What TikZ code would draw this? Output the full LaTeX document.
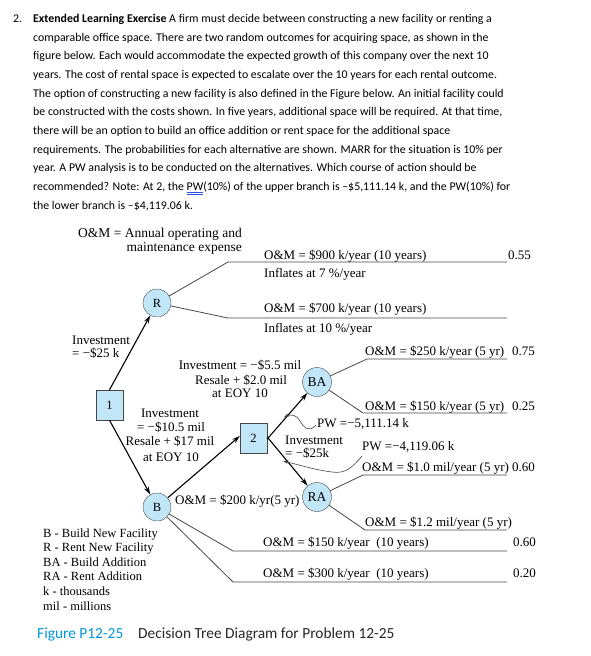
\documentclass[tikz,border=0pt]{standalone}
\usepackage{fontspec}
\setmainfont{Liberation Serif}
\newfontfamily\parafont{Carlito}
\usetikzlibrary{arrows.meta}
\definecolor{nodefill}{RGB}{192,230,247}
\definecolor{capblue}{RGB}{0,150,214}
\definecolor{linegray}{RGB}{70,70,70}
\definecolor{wordblue}{RGB}{40,80,220}
\newlength\pwlen
\begin{document}
\begin{tikzpicture}[x=1pt,y=-1pt,
  ptxt/.style={font=\parafont\fontsize{11.85}{14}\selectfont, anchor=base west, inner sep=0},
  tt/.style={font=\fontsize{13}{15}\selectfont, inner sep=0, anchor=base west},
  ttc/.style={font=\fontsize{13}{15}\selectfont, inner sep=0, anchor=base},
  lg/.style={font=\fontsize{12.5}{14}\selectfont, inner sep=0, anchor=base west},
  chance/.style={circle, draw=linegray, fill=nodefill, minimum size=28, inner sep=0, font=\fontsize{12.5}{14}\selectfont},
  decision/.style={rectangle, draw=linegray, fill=nodefill, minimum width=27, minimum height=30, inner sep=0, font=\fontsize{12.5}{14}\selectfont},
  branch/.style={draw=linegray, line width=0.8},
  arr/.style={-{Stealth[length=8,width=5]}, line width=1.1, draw=black},
  lead/.style={-{Stealth[length=5,width=3.5]}, line width=0.6, draw=linegray}
]
\useasboundingbox (0,0) rectangle (591,656);

% ---------- paragraph ----------
\node[ptxt] (p0) at (13,22.5) {2.};
\node[ptxt] (p1) at (33,22.5) {\textbf{Extended Learning Exercise} A firm must decide between constructing a new facility or renting a};
\node[ptxt] (p2) at (33,41.2) {comparable office space. There are two random outcomes for acquiring space, as shown in the};
\node[ptxt] (p3) at (33,59.8) {figure below. Each would accommodate the expected growth of this company over the next 10};
\node[ptxt] (p4) at (33,78.5) {years. The cost of rental space is expected to escalate over the 10 years for each rental outcome.};
\node[ptxt] (p5) at (33,97.1) {The option of constructing a new facility is also defined in the Figure below. An initial facility could};
\node[ptxt] (p6) at (33,115.8) {be constructed with the costs shown. In five years, additional space will be required. At that time,};
\node[ptxt] (p7) at (33,134.4) {there will be an option to build an office addition or rent space for the additional space};
\node[ptxt] (p8) at (33,153) {requirements. The probabilities for each alternative are shown. MARR for the situation is 10\% per};
\node[ptxt] (p9) at (33,171.7) {year. A PW analysis is to be conducted on the alternatives. Which course of action should be};
\node[ptxt] (p10) at (33,190.3) {recommended? Note: At 2, the \settowidth{\pwlen}{PW}\rlap{\color{wordblue}\rule[-2.2pt]{\pwlen}{0.5pt}}\rlap{\color{wordblue}\rule[-3.7pt]{\pwlen}{0.5pt}}PW(10\%) of the upper branch is –\$5,111.14 k, and the PW(10\%) for};
\node[ptxt] (p11) at (33,209) {the lower branch is –\$4,119.06 k.};

% ---------- nodes ----------
\node[decision] (d1) at (109.5,405) {1};
\node[decision] (d2) at (253.5,438) {2};
\node[chance] (R) at (157,303) {R};
\node[chance] (B) at (157,507) {B};
\node[chance, minimum size=29, font=\fontsize{13.5}{15}\selectfont] (BA) at (317,382) {BA};
\node[chance, minimum size=29, font=\fontsize{13.5}{15}\selectfont] (RA) at (317,497) {RA};

% ---------- arrows ----------
\draw[arr] (d1.north) -- (R);
\draw[arr] (d1.south) -- (B);
\draw[arr] (B) -- ([yshift=2]d2.west);
\draw[arr] ([yshift=-1]d2.east) -- (BA);
\draw[arr] ([yshift=1]d2.east) -- (RA);

% ---------- branch coordinates ----------
\coordinate (r1a) at (228,262); \coordinate (r1b) at (507,262);
\coordinate (r2a) at (228,318); \coordinate (r2b) at (507,318);
\coordinate (ba1a) at (367,359); \coordinate (ba1b) at (507,359);
\coordinate (ba2a) at (363,413); \coordinate (ba2b) at (507,413);
\coordinate (ra1a) at (363,475); \coordinate (ra1b) at (507,475);
\coordinate (ra2a) at (365,530); \coordinate (ra2b) at (507,530);
\coordinate (b1a) at (233,551); \coordinate (b1b) at (507,551);
\coordinate (b2a) at (233,582); \coordinate (b2b) at (507,582);

\draw[branch] (R) -- (r1a) -- (r1b);
\draw[branch] (R) -- (r2a) -- (r2b);
\draw[branch] (BA) -- (ba1a) -- (ba1b);
\draw[branch] (BA) -- (ba2a) -- (ba2b);
\draw[branch] (RA) -- (ra1a) -- (ra1b);
\draw[branch] (RA) -- (ra2a) -- (ra2b);
\draw[branch] (B) -- (b1a) -- (b1b);
\draw[branch] (B) -- (b2a) -- (b2b);

% ---------- tree texts ----------
\node[tt, anchor=base east, font=\fontsize{13.5}{15}\selectfont] (om1) at (242,237) {O\&M = Annual operating and};
\node[tt, anchor=base east, font=\fontsize{13.5}{15}\selectfont] (om2) at (242,251) {maintenance expense};

\node[tt] (t1) at (264,259) {O\&M = \$900 k/year (10 years)};
\node[tt] (t1i) at (264,277.5) {Inflates at 7 \%/year};
\node[tt] (pr1) at (508,259) {0.55};
\node[tt] (t2) at (264,312.5) {O\&M = \$700 k/year (10 years)};
\node[tt] (t2i) at (264,332) {Inflates at 10 \%/year};

\node[tt] (inv1) at (72,344) {Investment};
\node[tt] (inv1b) at (72,357.5) {= −\$25 k};

\node[ttc] (ib1) at (240,369) {Investment = −\$5.5 mil};
\node[ttc] (ib2) at (241,384) {Resale + \$2.0 mil};
\node[ttc] (ib3) at (240,397.5) {at EOY 10};

\node[tt] (t3) at (365,355) {O\&M = \$250 k/year (5 yr)};
\node[tt] (pr3) at (512,355) {0.75};
\node[tt] (t4) at (365,410) {O\&M = \$150 k/year (5 yr)};
\node[tt] (pr4) at (512,410) {0.25};

\node[tt] (pw1) at (317,427.5) {PW =−5,111.14 k};
\node[tt] (inv3) at (285,444) {Investment};
\node[tt] (inv3b) at (285,457.5) {= −\$25k};
\node[tt] (pw2) at (362,450) {PW =−4,119.06 k};

\node[tt] (t5) at (362,471) {O\&M = \$1.0 mil/year (5 yr)};
\node[tt] (pr5) at (512,471) {0.60};
\node[tt] (t6) at (365,526) {O\&M = \$1.2 mil/year (5 yr)};

\node[ttc] (iv1) at (170,417.5) {Investment};
\node[ttc] (iv2) at (171,431.5) {= −\$10.5 mil};
\node[ttc] (iv3) at (170,445.5) {Resale + \$17 mil};
\node[ttc] (iv4) at (171,461) {at EOY 10};

\node[tt] (t200) at (175,504.5) {O\&M = \$200 k/yr(5 yr)};

\node[tt] (t7) at (263,546) {O\&M = \$150 k/year\ \ (10 years)};
\node[tt] (pr7) at (513,546) {0.60};
\node[tt] (t8) at (263,577) {O\&M = \$300 k/year\ \ (10 years)};
\node[tt] (pr8) at (513,577) {0.20};

% ---------- leaders ----------
\coordinate (pw1s) at (316,425);
\coordinate (pw1e) at (284,417);
\draw[lead] (pw1s) .. controls (308,434) and (303,426) .. (300,421) .. controls (297,415) and (291,414) .. (pw1e);
\coordinate (pw2s) at (362,456);
\coordinate (pw2e) at (283,461);
\draw[lead] (pw2s) .. controls (352,468) and (345,474) .. (332,472) .. controls (315,470) and (296,464) .. (pw2e);

% ---------- legend ----------
\node[lg] (l1) at (43,537) {B - Build New Facility};
\node[lg] (l2) at (43,551.5) {R - Rent New Facility};
\node[lg] (l3) at (43,566) {BA - Build Addition};
\node[lg] (l4) at (43,580.5) {RA - Rent Addition};
\node[lg] (l5) at (43,595) {k - thousands};
\node[lg] (l6) at (43,610) {mil - millions};

% ---------- caption ----------
\node[inner sep=0, anchor=base west, font=\parafont\fontsize{15.4}{17}\selectfont, text=capblue] (cap1) at (37,638) {Figure P12-25};
\node[inner sep=0, anchor=base west, font=\parafont\fontsize{15.4}{17}\selectfont, text=black!85] (cap2) at (138,638) {Decision Tree Diagram for Problem 12-25};
\end{tikzpicture}
\end{document}
